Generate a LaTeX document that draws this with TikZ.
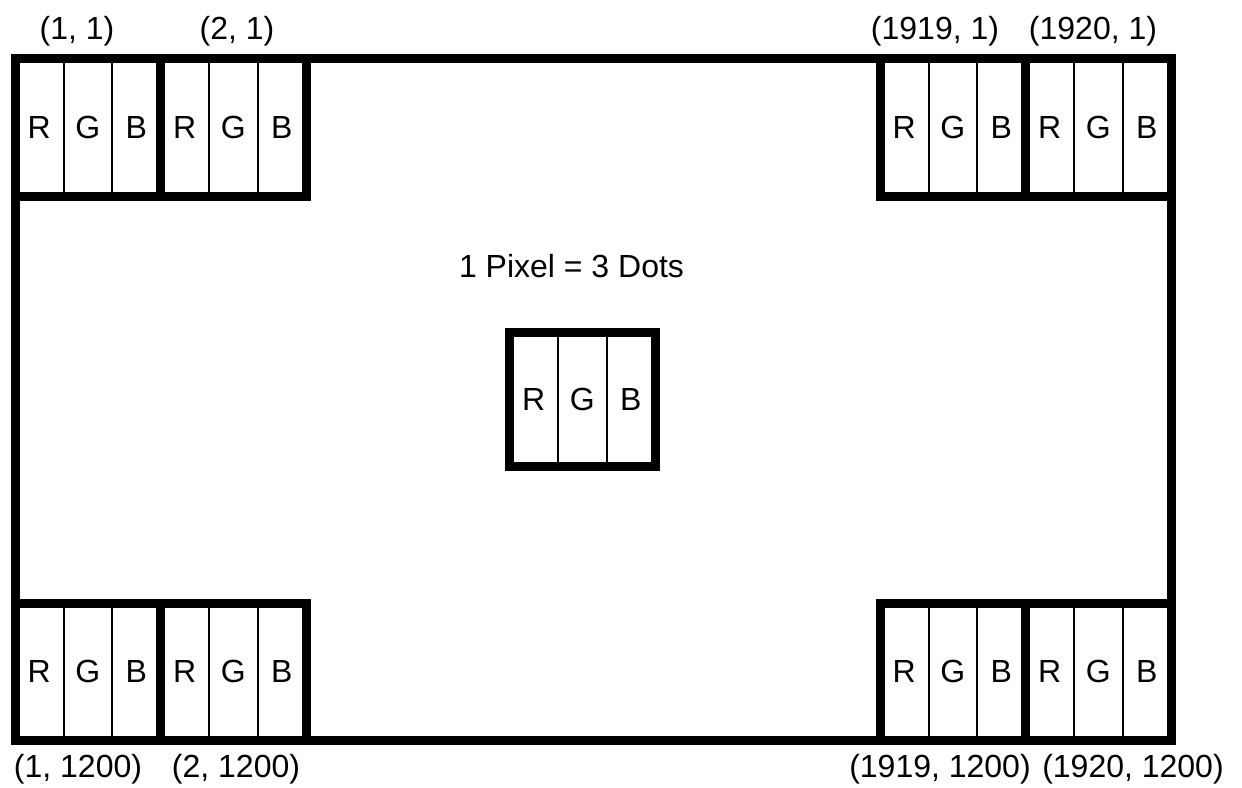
\documentclass[tikz,border=0pt]{standalone}
\usepackage{fontspec}
\setmainfont{Liberation Sans}
\begin{document}
\begin{tikzpicture}[x=1pt,y=-1pt,
  every node/.style={font=\fontsize{32pt}{38pt}\selectfont},
  dotcell/.style={draw=black, line width=2pt, inner sep=0pt, outer sep=0pt,
    minimum width=48.5pt, anchor=north west},
  pixframe/.style={draw=black, line width=9pt, line join=miter},
  screen/.style={draw=black, line width=9pt, inner sep=0pt, outer sep=0pt,
    minimum width=1156pt, minimum height=682pt},
  lbl/.style={inner sep=0pt},
  pics/rgbpixel/.style={code={
    \node[dotcell, minimum height=#1pt] (-r) at (0,0) {R};
    \node[dotcell, minimum height=#1pt] (-g) at (48.5,0) {G};
    \node[dotcell, minimum height=#1pt] (-b) at (97,0) {B};
    \draw[pixframe] (-r.north west) rectangle (-b.south east);
  }}]
  \useasboundingbox (0,0) rectangle (1242,787);

  % display area
  \node[screen] (scr) at (593,399) {};

  % corner pixels, top row
  \pic (p11)   at (15,58)     {rgbpixel=138};
  \pic (p21)   at (160.5,58)  {rgbpixel=138};
  \pic (p19191) at (880,58)   {rgbpixel=138};
  \pic (p19201) at (1025.5,58) {rgbpixel=138};

  % corner pixels, bottom row
  \pic (p1b)    at (15,603)     {rgbpixel=137};
  \pic (p2b)    at (160.5,603)  {rgbpixel=137};
  \pic (p1919b) at (880,603)    {rgbpixel=137};
  \pic (p1920b) at (1025.5,603) {rgbpixel=137};

  % single pixel in the middle
  \pic (pmid) at (509.5,332) {rgbpixel=134};
  \node[lbl] (caption) at (571.5,266) {1 Pixel = 3 Dots};

  % coordinates
  \node[lbl] (l11)     at (77,31)   {(1, 1)};
  \node[lbl] (l21)     at (237,31)  {(2, 1)};
  \node[lbl] (l19191)  at (935,31)  {(1919, 1)};
  \node[lbl] (l19201)  at (1093,31) {(1920, 1)};
  \node[lbl] (l1b)     at (78,769)  {(1, 1200)};
  \node[lbl] (l2b)     at (236,769) {(2, 1200)};
  \node[lbl] (l1919b)  at (940,769) {(1919, 1200)};
  \node[lbl] (l1920b)  at (1133,769) {(1920, 1200)};
\end{tikzpicture}
\end{document}
